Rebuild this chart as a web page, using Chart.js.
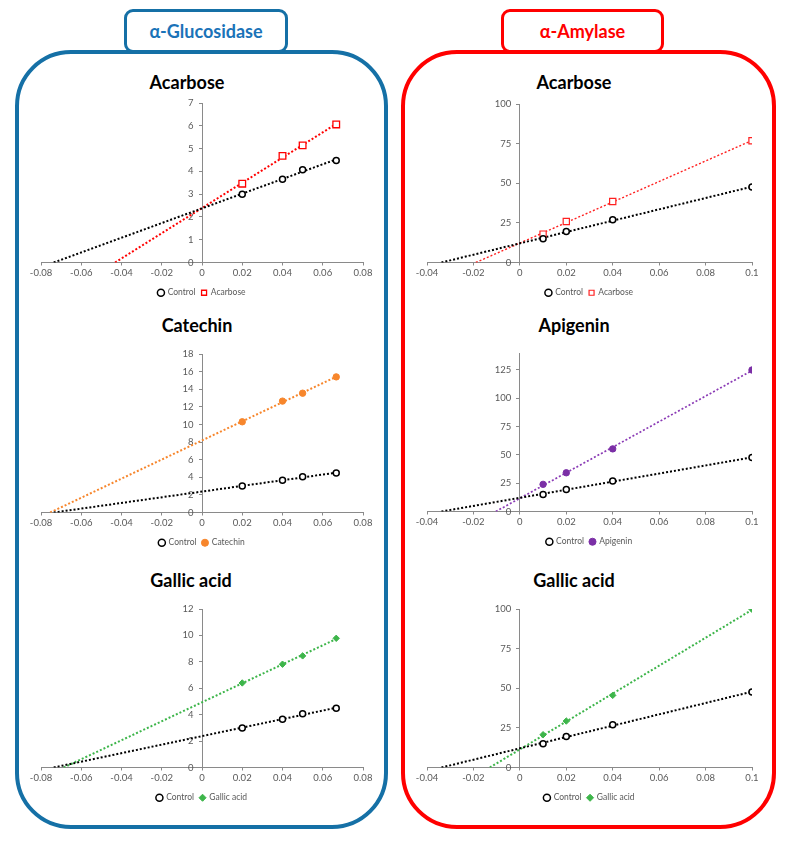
<!DOCTYPE html>
<html>
<head>
<meta charset="utf-8">
<script src="https://cdn.jsdelivr.net/npm/chart.js@4.4.0/dist/chart.umd.min.js"></script>
<style>
  body { margin: 0; background: #fff; }
  #page { position: relative; width: 789px; height: 844px; overflow: hidden; font-family: Lato, "Open Sans", sans-serif; background: #fff; }
  .panel { position: absolute; box-sizing: border-box; border: 4px solid; border-radius: 56px; background: #fff; }
  .hdr { position: absolute; box-sizing: border-box; border: 3px solid; border-radius: 9px; background: #fff;
         font-weight: bold; font-size: 18px; text-align: center; }
  .hdr span { position: absolute; left: 0; right: 0; top: 50%; transform: translateY(-50%); white-space: nowrap; }
  .ttl { position: absolute; font-weight: bold; font-size: 18px; color: #000; transform: translate(-50%, -50%); white-space: nowrap; }
  canvas { position: absolute; }
</style>
</head>
<body>
<div id="page">
  <div class="panel" style="left:15px;top:50px;width:373px;height:779px;border-color:#1570a6;"></div>
  <div class="panel" style="left:401px;top:50px;width:375px;height:779px;border-color:#ff0000;"></div>
  <div class="hdr" style="left:124px;top:9px;width:164px;height:44px;border-color:#1570a6;color:#1a73b8;"><span>α-Glucosidase</span></div>
  <div class="hdr" style="left:501px;top:9px;width:163px;height:44px;border-color:#ff0000;color:#ff0000;"><span>α-Amylase</span></div>
</div>
<script>
// ---------------- data ----------------
// α-Glucosidase: 1/[S] values
const xGluc = [0.02, 0.04, 0.05, 0.0667];
const glucControl  = [3.00, 3.65, 4.07, 4.48];
const glucAcarbose = [3.46, 4.68, 5.14, 6.06];
const glucCatechin = [10.30, 12.65, 13.55, 15.40];
const glucGallic   = [6.40, 7.82, 8.45, 9.78];

// α-Amylase: 1/[S] values
const xAmyl = [0.01, 0.02, 0.04, 0.1];
const amylControl  = [15.0, 19.5, 27.0, 47.6];
const amylAcarbose = [17.9, 25.9, 38.5, 76.8];
const amylApigenin = [24.0, 34.2, 55.3, 125.0];
const amylGallic   = [20.7, 29.3, 45.5, 99.8];

// panel titles and series names
const glucTitles = ["Acarbose", "Catechin", "Gallic acid"];
const amylTitles = ["Acarbose", "Apigenin", "Gallic acid"];
const controlName = "Control";

// axis settings
const glucXTicks = { min: -0.08, max: 0.08, step: 0.02 };
const amylXTicks = { min: -0.04, max: 0.1, step: 0.02 };
const glucYMax = [7, 18, 12];
const glucYStep = [1, 2, 2];
const amylYMax = [100, 140, 100];
const amylYStep = [25, 25, 25];

// ---------------- helpers ----------------
Chart.defaults.font.family = 'Lato, "Open Sans", sans-serif';
Chart.defaults.color = '#595959';

function linFit(xs, ys) {
  const n = xs.length;
  const mx = xs.reduce((a, b) => a + b, 0) / n;
  const my = ys.reduce((a, b) => a + b, 0) / n;
  let sxx = 0, sxy = 0;
  for (let i = 0; i < n; i++) { sxx += (xs[i] - mx) ** 2; sxy += (xs[i] - mx) * (ys[i] - my); }
  const m = sxy / sxx;
  return { m, b: my - m * mx };
}
function trendData(xs, ys) {
  const f = linFit(xs, ys);
  const xEnd = xs[xs.length - 1];
  return [{ x: -f.b / f.m, y: 0 }, { x: xEnd, y: f.m * xEnd + f.b }];
}
function pts(xs, ys) { return xs.map((x, i) => ({ x, y: ys[i] })); }
function fmt(v) { return Math.abs(v) < 1e-9 ? '0' : String(parseFloat(Number(v).toFixed(4))); }

const styles = {
  control:  { pointStyle: 'circle', radius: 3, bg: '#ffffff', border: '#000000', bw: 1.5, line: '#000000', lw: 2 },
  acarbose: { pointStyle: 'rect', radius: 4.7, bg: '#ffffff', border: '#ff0000', bw: 1.3, line: '#ff0000', lw: 2 },
  acarboseA:{ pointStyle: 'rect', radius: 4.4, bg: '#ffffff', border: '#ff2020', bw: 1.2, line: '#ff2020', lw: 1.4 },
  catechin: { pointStyle: 'circle', radius: 3.2, bg: '#f7862c', border: '#f7862c', bw: 1, line: '#f7862c', lw: 2 },
  gallic:   { pointStyle: 'rectRot', radius: 3.2, bg: '#3db54a', border: '#3db54a', bw: 1, line: '#3db54a', lw: 2 },
  apigenin: { pointStyle: 'circle', radius: 3.2, bg: '#7b2fa6', border: '#7b2fa6', bw: 1, line: '#8a3ab5', lw: 1.7 }
};

function pointSet(label, xs, ys, st) {
  return { label, data: pts(xs, ys), pointStyle: st.pointStyle, pointRadius: st.radius,
           backgroundColor: st.bg, borderColor: st.border, borderWidth: st.bw, showLine: false, order: 0 };
}
function trendSet(xs, ys, st) {
  return { label: '_trend', data: trendData(xs, ys), showLine: true, borderColor: st.line, borderWidth: st.lw,
           borderDash: [2, 2], pointRadius: 0, fill: false, order: 2 };
}

function makeChart(spec) {
  const padT = 10, xAxisH = 20, side = 19, legendH = 25;
  const plotW = spec.plotR - spec.plotL;
  const left = spec.plotL - side;
  const width = Math.round(plotW + 2 * side);
  const top = spec.plotT - padT;
  const height = Math.round(spec.plotB + xAxisH + legendH - top);
  const cv = document.createElement('canvas');
  cv.width = width; cv.height = height;
  cv.style.left = left + 'px'; cv.style.top = top + 'px';
  document.getElementById('page').appendChild(cv);

  const t = document.createElement('div');
  t.className = 'ttl';
  t.textContent = spec.title;
  t.style.left = spec.titleX + 'px'; t.style.top = spec.titleY + 'px';
  document.getElementById('page').appendChild(t);

  // y-axis labels sit a few pixels left of the y axis line (x = 0)
  const labelGap = 8.5 * (spec.xt.max - spec.xt.min) / plotW;
  const axisColor = '#8a8a8a';
  new Chart(cv, {
    type: 'scatter',
    data: {
      datasets: [
        pointSet(controlName, spec.xs, spec.control, styles.control),
        pointSet(spec.title, spec.xs, spec.values, spec.style),
        trendSet(spec.xs, spec.control, styles.control),
        trendSet(spec.xs, spec.values, spec.style)
      ]
    },
    options: {
      responsive: false, animation: false, devicePixelRatio: 1,
      layout: { padding: { left: side, right: side, top: padT, bottom: 0 } },
      plugins: {
        tooltip: { enabled: false },
        title: { display: false },
        legend: {
          position: 'bottom',
          labels: {
            usePointStyle: true, boxWidth: 5, boxHeight: 5, padding: 6, color: '#595959',
            font: { size: 8.5 },
            filter: item => !item.text.startsWith('_')
          }
        }
      },
      scales: {
        x: {
          type: 'linear', min: spec.xt.min, max: spec.xt.max,
          ticks: { stepSize: spec.xt.step, color: '#595959', font: { size: 9.5 }, padding: 2, maxRotation: 0, autoSkip: false, callback: fmt },
          grid: { drawOnChartArea: false, drawTicks: true, tickLength: 3, color: axisColor, tickColor: axisColor },
          border: { color: axisColor, width: 1 },
          afterFit: s => { s.height = xAxisH; }
        },
        y: {
          type: 'linear', position: { x: 0 }, min: 0, max: spec.yMax,
          ticks: { stepSize: spec.yStep, display: false, includeBounds: false },
          grid: { drawOnChartArea: false, drawTicks: true, tickLength: 3, color: axisColor, tickColor: axisColor },
          border: { color: axisColor, width: 1 }
        },
        yl: {
          type: 'linear', axis: 'y', position: { x: -labelGap }, min: 0, max: spec.yMax,
          ticks: { stepSize: spec.yStep, color: '#595959', font: { size: 9.5 }, includeBounds: false, callback: fmt },
          grid: { display: false },
          border: { display: false }
        }
      }
    }
  });
}

// ---------------- build the six charts ----------------
const glucValues = [glucAcarbose, glucCatechin, glucGallic];
const glucStyles = [styles.acarbose, styles.catechin, styles.gallic];
const glucPlot = [ { t: 103, b: 262, tx: 187, ty: 82 }, { t: 354, b: 511.7, tx: 197, ty: 325 }, { t: 609, b: 767, tx: 191, ty: 580 } ];
const amylValues = [amylAcarbose, amylApigenin, amylGallic];
const amylStyles = [styles.acarboseA, styles.apigenin, styles.gallic];
const amylPlot = [ { t: 104.3, b: 262.7, tx: 574, ty: 82 }, { t: 353.3, b: 511.7, tx: 574, ty: 325 }, { t: 609, b: 767.3, tx: 574, ty: 580 } ];

for (let i = 0; i < 3; i++) {
  makeChart({ plotL: 41, plotR: 363, plotT: glucPlot[i].t, plotB: glucPlot[i].b, titleX: glucPlot[i].tx, titleY: glucPlot[i].ty,
              title: glucTitles[i], xs: xGluc, control: glucControl, values: glucValues[i], style: glucStyles[i],
              xt: glucXTicks, yMax: glucYMax[i], yStep: glucYStep[i] });
  makeChart({ plotL: 427, plotR: 752, plotT: amylPlot[i].t, plotB: amylPlot[i].b, titleX: amylPlot[i].tx, titleY: amylPlot[i].ty,
              title: amylTitles[i], xs: xAmyl, control: amylControl, values: amylValues[i], style: amylStyles[i],
              xt: amylXTicks, yMax: amylYMax[i], yStep: amylYStep[i] });
}
</script>
</body>
</html>
